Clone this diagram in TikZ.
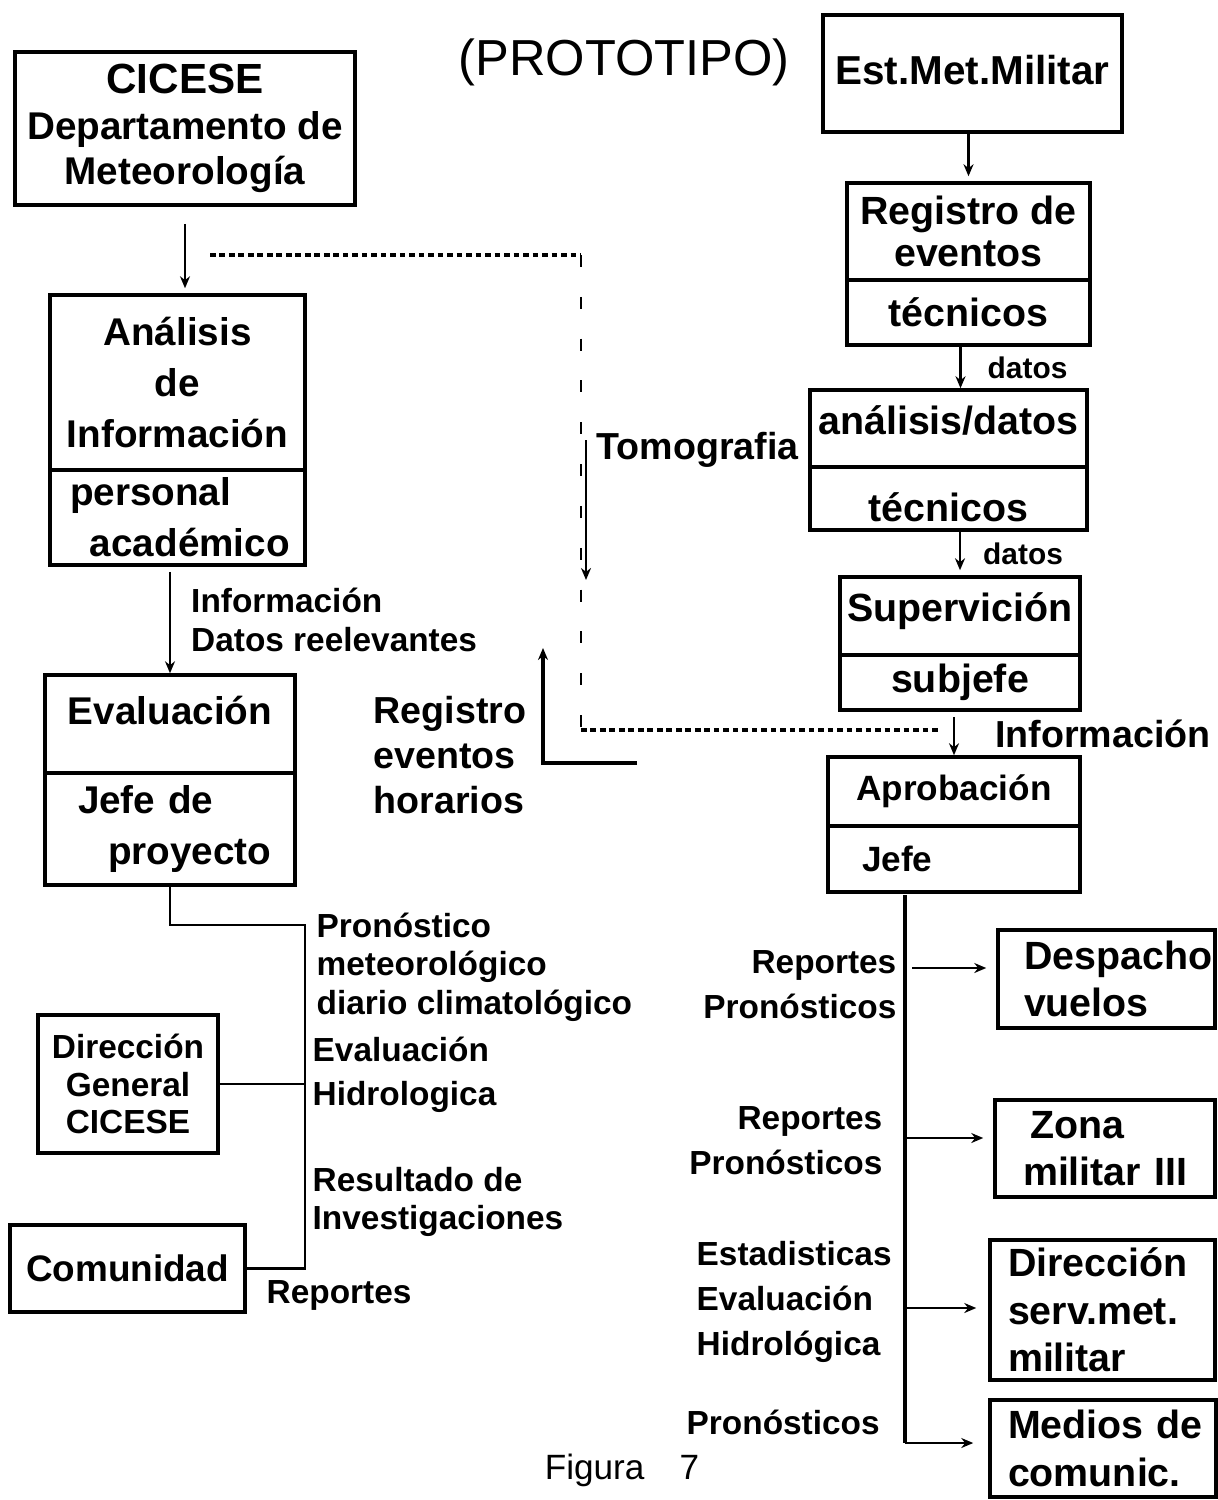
\documentclass[tikz,border=0pt]{standalone}
\usepackage{fontspec}
\setmainfont{Liberation Sans}
\usetikzlibrary{arrows.meta,positioning}

\begin{document}
\begin{tikzpicture}
    [x=0.1mm, y=-0.1mm,
    box/.style={draw, line width=1pt, inner sep=0pt, align=center, font=\bfseries\fontsize{11}{14.5}\selectfont,
      execute at begin node={\hyphenpenalty=10000 \exhyphenpenalty=10000 }},
    rbox/.style={box, font=\bfseries\fontsize{11.2}{13.5}\selectfont},
    sz/.style 2 args={minimum width=#1mm, minimum height=#2mm},
    lbl/.style={inner sep=0pt, align=left, font=\bfseries\fontsize{9.5}{11}\selectfont},
    rlbl/.style={lbl, font=\bfseries\fontsize{9.5}{12.8}\selectfont},
    small/.style={inner sep=0pt, font=\bfseries\fontsize{8.5}{10}\selectfont},
    mid/.style={inner sep=0pt, align=left, font=\bfseries\fontsize{10.7}{12.8}\selectfont},
    arr/.style={-{Stealth[length=1.2mm, width=1mm]}, line width=0.7pt},
    link/.style={line width=0.7pt},
    dots/.style={line width=0.9pt, dash pattern=on 1.6pt off 1.1pt},
    dashes/.style={line width=0.8pt, dash pattern=on 3.4pt off 8.5pt}]
    \useasboundingbox (0,0) rectangle (1218,1500);

    \node[font=\fontsize{14.4}{16}\selectfont] (title) at (624,62) {(PROTOTIPO)};
    \node[font=\fontsize{10}{12}\selectfont] (fig) at (622,1470) {Figura\quad 7};

    \node[box, sz={34}{15.3}, font=\bfseries\fontsize{11}{13}\selectfont] (cic) at (185,128.5)
      {{\fontsize{12}{14}\selectfont CICESE}\\Departamento~de\\Meteorología};
    \node[box, sz={25.5}{17.5}] (ana1) at (177.5,382.5) {Análisis\\de\\Información};
    \node[box, sz={25.5}{9.5}, align=left, text width=21.5mm, inner xsep=2mm] (ana2) at (177.5,517.5)
      {personal\\\hspace*{2mm}académico};
    \node[box, sz={25}{9.8}, text height=0pt, text depth=0pt] (eva1) at (170,724) {Evaluación};
    \node[box, sz={25}{11.2}, align=left, text width=18.4mm, inner xsep=3.3mm] (eva2) at (170,829)
      {Jefe~de\\\hspace*{3mm}proyecto};
    \node[box, sz={18}{13.8}, font=\bfseries\fontsize{9.5}{10.7}\selectfont] (dir) at (128,1084)
      {Dirección\\General\\CICESE};
    \node[box, sz={23.5}{8.7}, font=\bfseries\fontsize{10.5}{13}\selectfont] (com) at (127.5,1268.5) {Comunidad};

    \node[rbox, sz={29.9}{11.7}, font=\bfseries\fontsize{11.5}{14}\selectfont, text height=2.2mm, text depth=0pt]
      (est) at (972.5,73.5) {Est.Met.Militar};
    \node[rbox, sz={24.3}{9.7}, font=\bfseries\fontsize{11.2}{12}\selectfont] (reg1) at (968.5,231.5) {Registro~de\\eventos};
    \node[rbox, sz={24.3}{6.5}] (reg2) at (968.5,312.5) {técnicos};
    \node[rbox, sz={27.7}{7.7}, text height=1.2mm, text depth=0pt] (anl1) at (948.5,428.5) {análisis/datos};
    \node[rbox, sz={27.7}{6.3}, text height=4.6mm, text depth=0pt] (anl2) at (948.5,498.5) {técnicos};
    \node[rbox, sz={24}{7.8}, text height=1.1mm, text depth=0pt] (sup1) at (960,616) {Supervición};
    \node[rbox, sz={24}{5.5}] (sup2) at (960,682.5) {subjefe};
    \node[rbox, sz={25.2}{6.9}, font=\bfseries\fontsize{10}{12}\selectfont] (apr1) at (954,791.5) {Aprobación};
    \node[rbox, sz={25.2}{6.6}, font=\bfseries\fontsize{10}{12}\selectfont, align=left, text width=18.4mm, inner xsep=3.4mm]
      (apr2) at (954,859) {Jefe};
    \node[rbox, sz={21.7}{9.8}, align=left, text width=16.5mm, inner xsep=2.6mm] (des) at (1106.5,979)
      {Despacho\\vuelos};
    \node[rbox, sz={22}{9.7}, align=left, text width=16.4mm, inner xsep=2.8mm] (zon) at (1105,1148.5)
      {\hspace*{0.7mm}Zona\\militar~III};
    \node[rbox, sz={22.5}{14}, align=left, text width=18.9mm, inner xsep=1.8mm] (dsm) at (1102.5,1310)
      {Dirección\\serv.met.\\militar};
    \node[rbox, sz={22.6}{9.7}, align=left, text width=19mm, inner xsep=1.8mm] (med) at (1103,1448.5)
      {Medios~de\\comunic.};

    \draw[arr, shorten <=1.7mm, shorten >=0.5mm] (cic.south) -- (cic.south |- ana1.north);
    \draw[arr, shorten <=0.5mm] (eva1.north |- ana2.south) -- (eva1.north)
      node[lbl, midway, right=2mm] (infl) {Información\\Datos reelevantes};

    \draw[arr, shorten >=0.5mm] (reg1.north |- est.south) -- (reg1.north);
    \draw[arr] ([xshift=-0.8mm]reg2.south) -- ([xshift=-0.8mm]reg2.south |- anl1.north)
      node[small, midway, right=2.6mm] (dat1) {datos};
    \draw[arr, shorten >=0.5mm] (sup1.north |- anl2.south) -- (sup1.north)
      node[small, midway, right=2.2mm] (dat2) {datos};
    \draw[arr, shorten <=0.5mm] (apr1.north |- sup2.south) -- (apr1.north)
      node[mid, midway, right=4mm] (infr) {Información};

    \coordinate (d1) at (210,255);
    \coordinate (d2) at (581,255);
    \coordinate (d3) at (581,730);
    \coordinate (d4) at (940,730);
    \draw[dots] (d1) -- (d2);
    \draw[dashes] (d2) -- (d3);
    \draw[dots] (d3) -- (d4);

    \coordinate (t1) at (586,440);
    \coordinate (t2) at (586,580);
    \draw[arr] (t1) -- (t2);
    \node[mid, anchor=west] (tomo) at (596,450) {Tomografia};

    \coordinate (h1) at (637,763);
    \coordinate (h2) at (543,763);
    \coordinate (h3) at (543,648);
    \draw[arr, line width=1pt] (h1) -- (h2) -- (h3);
    \node[mid, anchor=west] (hor) at (373,755) {Registro\\eventos\\horarios};

    \coordinate (l1) at (305,925);
    \draw[link] (eva2.south) |- (l1) -- (l1 |- com.east) -- (com.east);
    \draw[link] (dir.east) -- (dir.east -| l1);
    \node[lbl, anchor=west] (pron) at (316,967) {Pronóstico\\meteorológico\\diario climatológico};
    \node[lbl, anchor=west, font=\bfseries\fontsize{9.5}{12.5}\selectfont] (evh) at (312,1075) {Evaluación\\Hidrologica};
    \node[lbl, anchor=west] (res) at (312,1202) {Resultado de\\Investigaciones};
    \node[lbl, anchor=west] (rep) at (266,1295) {Reportes};

    \coordinate (r1) at (905,895);
    \coordinate (r2) at (905,1443);
    \coordinate (a1) at (905,968);
    \coordinate (a2) at (905,1138);
    \coordinate (a3) at (905,1308);
    \draw[link, line width=1pt] (r1) -- (r2);
    \draw[arr, shorten <=0.7mm, shorten >=1mm] (a1) -- (a1 -| des.west);
    \draw[arr, shorten >=1mm] (a2) -- (a2 -| zon.west);
    \draw[arr, shorten >=1.2mm] (a3) -- (a3 -| dsm.west);
    \draw[arr, shorten >=1.5mm] (r2) -- (r2 -| med.west);
    \node[rlbl, align=right, anchor=east] (rp1) at (897,985) {Reportes\\Pronósticos};
    \node[rlbl, align=right, anchor=east] (rp2) at (883,1141) {Reportes\\Pronósticos};
    \node[rlbl, anchor=west] (rp3) at (696,1302) {Estadisticas\\Evaluación\\Hidrológica};
    \node[rlbl, anchor=west] (rp4) at (686,1422) {Pronósticos};
\end{tikzpicture}
\end{document}
